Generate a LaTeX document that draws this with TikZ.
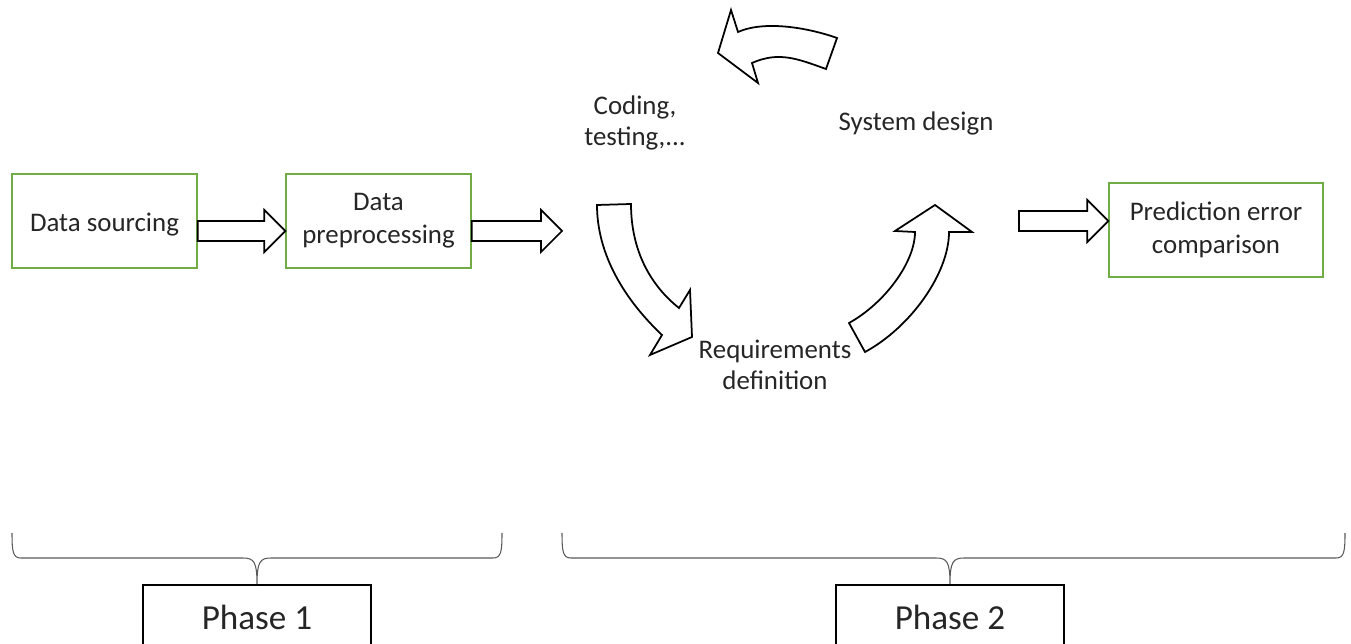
\documentclass[tikz,border=0pt]{standalone}
\usepackage{fontspec}
\setmainfont{Carlito}
\usepackage{tikz}
\usetikzlibrary{calc}
\definecolor{stagegreen}{RGB}{112,173,71}

\newcommand{\fatarrow}[2]{%
	\path[fat] let \p1=(#1), \p2=(#2) in
	(\x1,\y1+5.7pt) -- (\x2-12pt,\y1+5.7pt) -- (\x2-12pt,\y1+12pt) -- (\x2,\y1)
	-- (\x2-12pt,\y1-12pt) -- (\x2-12pt,\y1-5.7pt) -- (\x1,\y1-5.7pt) -- cycle;}
\newcommand{\phasebrace}[3]{%
	\draw[brace] (#1,533) .. controls (#1,552) and (#1+1,558) .. (#1+9,558)
	-- ($(#3.north)+(-14,-26)$) .. controls ($(#3.north)+(-3,-26)$) and ($(#3.north)+(0,-22)$) .. (#3.north)
	.. controls ($(#3.north)+(0,-22)$) and ($(#3.north)+(3,-26)$) .. ($(#3.north)+(14,-26)$)
	-- (#2-9,558) .. controls (#2-1,558) and (#2,552) .. (#2,533);}

\begin{document}
\begin{tikzpicture}[x=0.02cm, y=-0.02cm,
	stage/.style={draw=stagegreen, line width=0.85pt, minimum width=3.7cm, minimum height=1.88cm,
		align=center, text=black!85, font=\fontsize{15.3}{18.7}\selectfont,
		execute at begin node={\rule{0pt}{0.95em}}},
	cyclelabel/.style={align=center, text=black!85, font=\fontsize{15.3}{17.5}\selectfont},
	phase/.style={draw, line width=1.1pt, minimum width=4.56cm, minimum height=1.28cm,
		anchor=north, text=black!85, font=\fontsize{20}{24}\selectfont},
	fat/.style={draw, fill=white, line width=1pt, line join=miter},
	brace/.style={draw=black!65, line width=0.6pt}]
	\useasboundingbox (0,0) rectangle (1351,644);
	\clip (0,0) rectangle (1351,644);

	\node[stage] (src) at (104.5,221) {Data sourcing};
	\node[stage] (prep) at (378.5,221) {Data\\preprocessing};
	\node[stage, minimum width=4.28cm] (pec) at (1216,230) {Prediction error\\comparison};

	\coordinate (cyc in) at (562,231);
	\coordinate (cyc out) at (1019,221);
	\fatarrow{$(src.east)+(0,10)$}{$(prep.west)+(0,10)$}
	\fatarrow{$(prep.east)+(0,10)$}{cyc in}
	\fatarrow{cyc out}{$(pec.west)+(0,-9)$}

	\node[cyclelabel] (code) at (635,123) {Coding,\\testing,...};
	\node[cyclelabel] (sys) at (916,123) {System design};
	\node[cyclelabel] (req) at (775,365) {Requirements\\definition};

	\path[fat] (597,205) -- (631,204) .. controls (631,250) and (650,285) .. (679,308)
		-- (690,290) -- (692,337) -- (650,355) -- (662,335)
		.. controls (625,300) and (597,255) .. (597,205) -- cycle;
	\path[fat] (849,323) .. controls (885,303) and (915,262) .. (915,232)
		-- (895,231) -- (935,205) -- (972,232) -- (949,232)
		.. controls (949,273) and (911,327) .. (865,352) -- cycle;
	\path[fat] (837,38) .. controls (809,28) and (765,20) .. (738,32)
		-- (731,10) -- (718,53) -- (758,83) -- (752,63)
		.. controls (779,51) and (798,59) .. (826,69) -- cycle;

	\node[phase] (ph1) at (257,584) {Phase 1};
	\node[phase] (ph2) at (950,584) {Phase 2};
	\phasebrace{12}{502}{ph1}
	\phasebrace{562}{1345}{ph2}
\end{tikzpicture}
\end{document}
